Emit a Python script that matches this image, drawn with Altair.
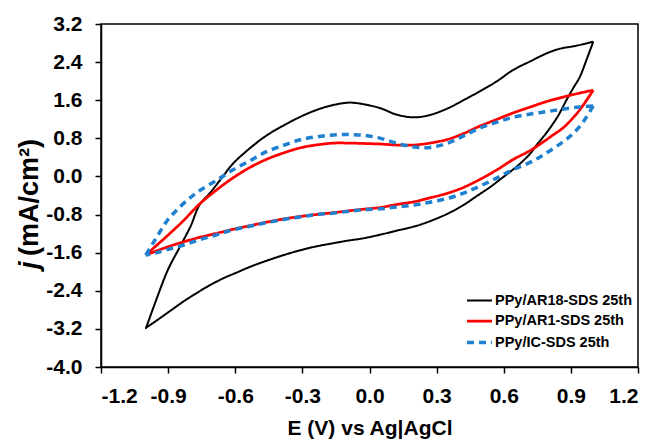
import altair as alt
import pandas as pd

series_names = ["PPy/AR18-SDS 25th", "PPy/AR1-SDS 25th", "PPy/IC-SDS 25th"]
series_colors = ["#000000", "#ff0000", "#1f80d0"]
series_widths = [2.0, 3.5, 2.5]
series_dashes = [[1, 0], [1, 0], [7, 5]]

x_ticks = [-1.2, -0.9, -0.6, -0.3, 0.0, 0.3, 0.6, 0.9, 1.2]
y_ticks = [-4.0, -3.2, -2.4, -1.6, -0.8, 0.0, 0.8, 1.6, 2.4, 3.2]

# PPy/AR18-SDS (black) - anodic scan
ar18_fwd_E = [-1.0, -0.95, -0.90, -0.85, -0.80, -0.76, -0.71, -0.66, -0.61, -0.53, -0.46, -0.38, -0.31,
              -0.24, -0.17, -0.09, -0.02, 0.05, 0.12, 0.20, 0.27, 0.35, 0.42, 0.49, 0.57, 0.64, 0.72,
              0.79, 0.85, 0.92, 1.0]
ar18_fwd_j = [-3.2, -2.55, -1.95, -1.5, -1.05, -0.6, -0.33, -0.03, 0.27, 0.61, 0.86, 1.08, 1.25,
              1.39, 1.49, 1.55, 1.51, 1.43, 1.30, 1.24, 1.29, 1.43, 1.60, 1.78, 2.00, 2.23, 2.42,
              2.58, 2.68, 2.74, 2.83]
# cathodic scan
ar18_rev_E = [1.0, 0.97, 0.94, 0.91, 0.88, 0.84, 0.79, 0.75, 0.72, 0.68, 0.64, 0.59, 0.54, 0.48, 0.42,
              0.35, 0.27, 0.20, 0.12, 0.05, -0.03, -0.10, -0.16, -0.24, -0.31, -0.39, -0.46, -0.53,
              -0.60, -0.65, -0.72, -0.78, -0.83, -0.89, -0.95, -1.0]
ar18_rev_j = [2.83, 2.45, 2.09, 1.85, 1.60, 1.25, 0.91, 0.68, 0.49, 0.30, 0.14, -0.04, -0.22, -0.41, -0.60,
              -0.78, -0.94, -1.05, -1.14, -1.22, -1.30, -1.35, -1.40, -1.47, -1.55, -1.66, -1.77, -1.89,
              -2.03, -2.13, -2.30, -2.47, -2.62, -2.82, -3.02, -3.18]

# PPy/AR1-SDS (red)
ar1_fwd_E = [-1.0, -0.95, -0.90, -0.83, -0.76, -0.68, -0.61, -0.53, -0.46, -0.38, -0.31, -0.24, -0.16,
             -0.09, -0.01, 0.05, 0.12, 0.20, 0.27, 0.35, 0.42, 0.49, 0.57, 0.64, 0.72, 0.79, 0.86, 0.93, 1.0]
ar1_fwd_j = [-1.65, -1.44, -1.23, -0.92, -0.58, -0.27, -0.03, 0.20, 0.36, 0.50, 0.60, 0.66, 0.70,
             0.70, 0.69, 0.68, 0.66, 0.66, 0.70, 0.78, 0.90, 1.05, 1.20, 1.33, 1.46, 1.57, 1.66, 1.74, 1.81]
ar1_rev_E = [1.0, 0.97, 0.94, 0.90, 0.86, 0.82, 0.79, 0.72, 0.64, 0.57, 0.49, 0.42, 0.35, 0.27, 0.20,
             0.12, 0.05, -0.03, -0.09, -0.16, -0.24, -0.31, -0.38, -0.46, -0.53, -0.61, -0.68, -0.76,
             -0.83, -0.89, -0.95, -1.0]
ar1_rev_j = [1.81, 1.60, 1.40, 1.18, 1.00, 0.87, 0.77, 0.55, 0.35, 0.14, -0.07, -0.23, -0.35, -0.45, -0.53,
             -0.59, -0.65, -0.69, -0.72, -0.76, -0.80, -0.84, -0.89, -0.96, -1.03, -1.11, -1.19, -1.28,
             -1.37, -1.46, -1.56, -1.65]

# PPy/IC-SDS (blue dashed)
ic_fwd_E = [-1.0, -0.97, -0.94, -0.90, -0.86, -0.81, -0.76, -0.68, -0.61, -0.53, -0.46, -0.38, -0.31,
            -0.24, -0.16, -0.09, -0.02, 0.05, 0.12, 0.20, 0.27, 0.35, 0.42, 0.49, 0.57, 0.64, 0.72,
            0.79, 0.86, 0.94, 1.0]
ic_fwd_j = [-1.65, -1.42, -1.19, -0.90, -0.70, -0.48, -0.30, -0.07, 0.14, 0.34, 0.52, 0.66, 0.77,
            0.83, 0.87, 0.88, 0.86, 0.80, 0.70, 0.62, 0.61, 0.70, 0.85, 1.01, 1.14, 1.24, 1.31,
            1.36, 1.41, 1.46, 1.48]
ic_rev_E = [1.0, 0.97, 0.94, 0.90, 0.86, 0.79, 0.72, 0.64, 0.57, 0.49, 0.42, 0.35, 0.27, 0.20, 0.12,
            0.05, -0.03, -0.09, -0.16, -0.24, -0.31, -0.38, -0.46, -0.53, -0.61, -0.68, -0.76, -0.83,
            -0.90, -0.95, -1.0]
ic_rev_j = [1.48, 1.25, 1.05, 0.86, 0.71, 0.49, 0.30, 0.14, -0.03, -0.21, -0.35, -0.46, -0.54, -0.60, -0.64,
            -0.68, -0.70, -0.73, -0.77, -0.80, -0.85, -0.90, -0.97, -1.04, -1.12, -1.22, -1.33, -1.44,
            -1.53, -1.60, -1.65]

rows = []
branches = [
    (series_names[0], "fwd", ar18_fwd_E, ar18_fwd_j),
    (series_names[0], "rev", ar18_rev_E, ar18_rev_j),
    (series_names[1], "fwd", ar1_fwd_E, ar1_fwd_j),
    (series_names[1], "rev", ar1_rev_E, ar1_rev_j),
    (series_names[2], "fwd", ic_fwd_E, ic_fwd_j),
    (series_names[2], "rev", ic_rev_E, ic_rev_j),
]
for name, br, es, js in branches:
    for i, (e, j) in enumerate(zip(es, js)):
        rows.append({"E": e, "j": j, "series": name, "branch": name + br, "order": i})
df = pd.DataFrame(rows)

FONT = "Liberation Sans"
minus_fix = "replace(datum.label, '\u2212', '-')"

legend_spec = dict(
    title=None, orient="none", legendX=364, legendY=263,
    symbolType="stroke", symbolSize=625, labelFont=FONT, labelFontSize=14.5,
    labelFontWeight="bold", labelColor="black", labelOffset=1, rowPadding=0,
    padding=0, labelLimit=300,
)

lines = alt.Chart(df).mark_line(interpolate="catmull-rom").encode(
    x=alt.X("E:Q", scale=alt.Scale(domain=[-1.2, 1.2], nice=False, zero=False),
            axis=alt.Axis(values=x_ticks, format=".1f", labelExpr=minus_fix,
                          title="E (V) vs Ag|AgCl", titleFont=FONT, titleFontSize=21,
                          titleFontWeight="bold", titleColor="black", titleBaseline="alphabetic",
                          titleY=67, labelPadding=12)),
    y=alt.Y("j:Q", scale=alt.Scale(domain=[-4.0, 3.2], nice=False, zero=False),
            axis=alt.Axis(values=y_ticks, format=".1f", labelExpr=minus_fix, title=None,
                          labelPadding=13)),
    color=alt.Color("series:N", scale=alt.Scale(domain=series_names, range=series_colors),
                    legend=alt.Legend(**legend_spec)),
    strokeDash=alt.StrokeDash("series:N", scale=alt.Scale(domain=series_names, range=series_dashes),
                              legend=alt.Legend(**legend_spec)),
    strokeWidth=alt.StrokeWidth("series:N", scale=alt.Scale(domain=series_names, range=series_widths),
                                legend=alt.Legend(**legend_spec)),
    detail="branch:N",
    order="order:Q",
)

ytitle_j = alt.Chart(pd.DataFrame({"t": ["j"]})).mark_text(
    angle=270, align="left", baseline="alphabetic", font=FONT, fontSize=27,
    fontWeight="bold", fontStyle="italic", color="black"
).encode(text="t:N", x=alt.value(-63), y=alt.value(245))

ytitle_rest = alt.Chart(pd.DataFrame({"t": ["(mA/cm\u00b2)"]})).mark_text(
    angle=270, align="left", baseline="alphabetic", font=FONT, fontSize=27,
    fontWeight="bold", color="black"
).encode(text="t:N", x=alt.value(-63), y=alt.value(232))

chart = alt.layer(lines, ytitle_j, ytitle_rest).properties(
    width=537, height=343,
    autosize=alt.AutoSizeParams(type="none"),
    padding={"left": 101, "top": 24, "right": 19, "bottom": 72},
).configure(
    background="white"
).configure_view(
    stroke="black", strokeWidth=1.5
).configure_axis(
    grid=False, domainColor="black", domainWidth=1.5, tickColor="black", tickWidth=1.5,
    tickSize=6, labelFont=FONT, labelFontSize=21, labelFontWeight="bold", labelColor="black",
)

chart.save("out.html", embed_options={"renderer": "svg", "actions": False})
